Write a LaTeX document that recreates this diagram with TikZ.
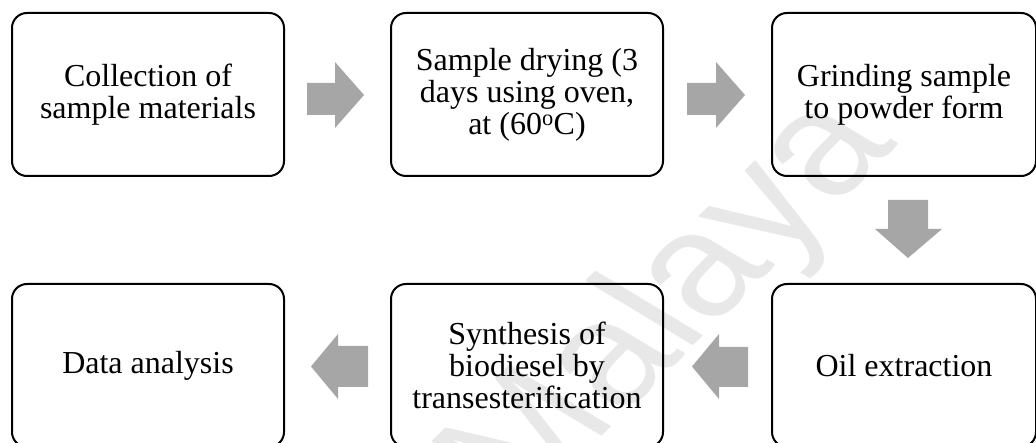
\documentclass[tikz,border=0pt]{standalone}
\usepackage{fontspec}
\setmainfont{Liberation Serif}
\newfontfamily\wmfont{Liberation Sans}
\begin{document}
\begin{tikzpicture}[x=1pt,y=1pt,
  stepbox/.style={draw=black, line width=2pt, rounded corners=15pt, minimum width=272pt, minimum height=163pt, inner sep=0pt, align=center, font=\fontsize{32}{32}\selectfont},
  blockarrow/.style={fill=arrowgray, draw=none}]
\definecolor{arrowgray}{HTML}{A6A6A6}
\useasboundingbox (0,0) rectangle (1036,-443);
\node[stepbox] (b1) at (148,-94.5) {Collection of\\sample materials};
\node[stepbox] (b2) at (527,-94.5) {Sample drying (3\\days using oven,\\at (60\textsuperscript{o}C)};
\node[stepbox, minimum width=264pt] (b3) at (904,-94.5) {Grinding sample\\to powder form};
\node[stepbox, minimum width=264pt] (b4) at (904,-365.5) {Oil extraction};
\node[stepbox] (b5) at (527,-365.5) {Synthesis of\\biodiesel by\\transesterification};
\node[stepbox] (b6) at (148,-365.5) {Data analysis};
% block arrows
\fill[blockarrow] (307,-83) -- (335,-83) -- (335,-62) -- (364,-95) -- (335,-128) -- (335,-115) -- (307,-115) -- cycle;
\fill[blockarrow] (687,-83) -- (716,-83) -- (716,-62) -- (745,-95) -- (716,-128) -- (716,-115) -- (687,-115) -- cycle;
\fill[blockarrow] (888,-200) -- (928,-200) -- (928,-229) -- (942,-229) -- (908,-258) -- (875,-229) -- (888,-229) -- cycle;
\fill[blockarrow] (748,-347) -- (719,-347) -- (719,-334) -- (692,-366.5) -- (719,-399) -- (719,-387) -- (748,-387) -- cycle;
\fill[blockarrow] (368,-346) -- (338,-346) -- (338,-334) -- (311,-366.5) -- (338,-399) -- (338,-387) -- (368,-387) -- cycle;
% watermark
\begin{scope}[xscale=1.3]
\node[rotate=52, transform shape, text opacity=0.09, font=\wmfont\fontsize{145}{145}\selectfont] (wm) at (518,-305) {Malaya};
\end{scope}
\end{tikzpicture}
\end{document}
